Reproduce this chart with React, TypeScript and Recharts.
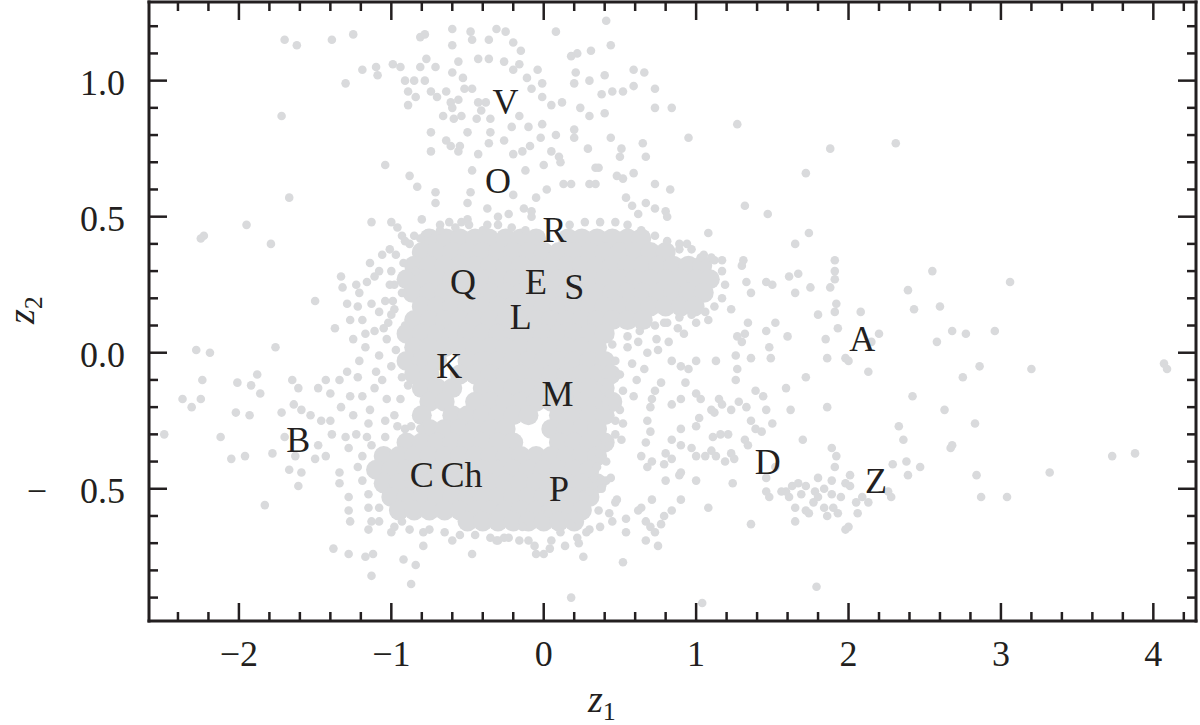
import React from 'react'
import { ScatterChart, Scatter, XAxis, YAxis, Label } from 'recharts'

const INK = '#231f20'
const DOT = '#d9dadc'
const FONT = "'Liberation Serif', 'DejaVu Serif', serif"

const X_DOMAIN: [number, number] = [-2.59, 4.28]
const Y_DOMAIN: [number, number] = [-0.986, 1.289]

const xMajorTicks = [-2, -1, 0, 1, 2, 3, 4]
const xMinorTicks = [-2.4, -2.2, -1.8, -1.6, -1.4, -1.2, -0.8, -0.6, -0.4, -0.2, 0.2, 0.4, 0.6, 0.8, 1.2, 1.4, 1.6, 1.8, 2.2, 2.4, 2.6, 2.8, 3.2, 3.4, 3.6, 3.8, 4.2]
const yMajorTicks = [-0.5, 0, 0.5, 1]
const yMinorTicks = [-0.9, -0.8, -0.7, -0.6, -0.4, -0.3, -0.2, -0.1, 0.1, 0.2, 0.3, 0.4, 0.6, 0.7, 0.8, 0.9, 1.1, 1.2]

// letter annotations
const letters = ['V', 'O', 'R', 'Q', 'E', 'S', 'L', 'K', 'M', 'B', 'C', 'Ch', 'P', 'A', 'D', 'Z']
const letterX = [-0.25, -0.3, 0.07, -0.53, -0.05, 0.2, -0.15, -0.62, 0.09, -1.61, -0.8, -0.54, 0.1, 2.09, 1.47, 2.18]
const letterY = [0.92, 0.63, 0.45, 0.26, 0.26, 0.24, 0.13, -0.05, -0.15, -0.32, -0.45, -0.45, -0.5, 0.05, -0.4, -0.47]

// upper arm (V, O) and the sparse top
const armPoints = [
  [-1.7, 1.15], [-1.62, 1.13], [-1.39, 1.15], [-1.25, 1.17], [-0.81, 1.16], [-0.78, 1.17], [-0.6, 1.19], [-0.6, 1.13], [-0.48, 1.18], [-0.47, 1.15], [-0.36, 1.15], [-0.31, 1.19],
  [-1.19, 1.04], [-1.1, 1.05], [-1.09, 1.02], [-0.99, 1.06], [-0.94, 1.05], [-1.3, 0.99], [-0.91, 1.0], [-0.85, 1.0], [-0.89, 0.96], [-0.84, 0.94], [-0.89, 0.91], [-0.77, 1.08], [-0.81, 1.05], [-0.71, 1.05], [-0.78, 1.0], [-0.74, 0.96], [-0.7, 0.94], [-0.64, 0.96], [-0.6, 1.03], [-0.56, 1.07], [-0.53, 1.01], [-0.52, 0.97], [-0.47, 0.97], [-0.43, 1.08], [-0.36, 1.08], [-0.61, 0.92], [-0.56, 0.93], [-0.6, 0.9], [-0.43, 0.92], [-0.38, 0.92], [-0.41, 0.89], [-0.66, 0.87], [-0.59, 0.86], [-0.54, 0.87], [-0.44, 0.86], [-0.35, 0.86],
  [-1.72, 0.87], [-0.74, 0.81], [-0.5, 0.81], [-0.35, 0.81], [-0.64, 0.78], [-0.61, 0.76], [-0.55, 0.76], [-0.56, 0.74], [-0.36, 0.77], [-0.74, 0.74], [-0.43, 0.73], [-1.04, 0.69], [-0.88, 0.65], [-0.47, 0.67], [-0.83, 0.61], [-0.71, 0.59], [-0.71, 0.55], [-0.48, 0.59], [-0.5, 0.55], [-1.67, 0.57],
  [0.41, 1.22], [0.08, 1.18], [0.44, 1.13], [0.31, 1.11], [0.22, 1.1], [0.18, 1.09], [-0.25, 1.18], [-0.2, 1.14], [-0.15, 1.11], [-0.26, 1.07], [-0.2, 1.04], [-0.16, 1.06], [-0.11, 1.01], [-0.04, 1.04], [-0.01, 0.99], [-0.08, 0.97], [-0.01, 0.94], [0.05, 0.91], [0.12, 0.92], [0.21, 1.03], [0.2, 0.99], [0.3, 1.0], [0.4, 1.02], [0.59, 1.04], [0.66, 1.03], [0.59, 0.98], [0.52, 0.96], [0.38, 0.95], [0.45, 0.96], [0.73, 0.97], [0.73, 0.9], [0.84, 0.9], [0.24, 0.9], [0.3, 0.87], [0.4, 0.88], [1.27, 0.84], [0.95, 0.79],
  [0.2, 0.82], [0.2, 0.79], [0.08, 0.8], [-0.01, 0.84], [-0.02, 0.79], [-0.09, 0.76], [-0.14, 0.74], [-0.2, 0.73], [-0.26, 0.78], [-0.21, 0.83], [-0.16, 0.87], [-0.1, 0.83], [0.44, 0.79], [0.65, 0.77], [0.67, 0.72], [0.51, 0.75], [0.5, 0.72], [0.29, 0.75], [0.1, 0.72], [0.05, 0.74], [0.0, 0.69], [0.11, 0.7], [-0.12, 0.67], [-0.2, 0.58], [-0.05, 0.57], [0.02, 0.6], [0.13, 0.62], [0.18, 0.62], [0.3, 0.62], [0.34, 0.62], [0.34, 0.68], [0.36, 0.68], [0.48, 0.65], [0.52, 0.64], [0.59, 0.66], [0.73, 0.62], [0.83, 0.6], [0.54, 0.57], [0.58, 0.54], [0.62, 0.51], [0.67, 0.55], [0.73, 0.53], [0.8, 0.52], [0.81, 0.5], [-0.08, 0.52], [-0.08, 0.5], [-0.3, 0.5], [-0.23, 0.51], [-0.13, 0.53],
  [1.88, 0.75], [1.72, 0.66], [1.32, 0.54], [1.47, 0.51], [1.74, 0.44], [1.65, 0.4], [2.31, 0.77],
]

// fringe round the upper cloud (Q, E, S)
const upperFringe = [
  [-1.95, 0.47], [-2.23, 0.43], [-2.25, 0.42], [-1.79, 0.4], [-1.13, 0.48], [-1.0, 0.48], [-0.96, 0.46], [-0.8, 0.49], [-0.93, 0.43], [-0.37, 0.53], [-0.37, 0.47], [-0.5, 0.49], [-0.54, 0.48], [-0.62, 0.48], [-0.68, 0.47],
  [-1.33, 0.28], [-1.32, 0.24], [-1.23, 0.25], [-1.11, 0.28], [-1.5, 0.19], [-0.92, 0.33], [-0.98, 0.25], [-0.93, 0.22], [-0.84, 0.3], [-1.01, 0.38], [-1.04, 0.19], [-1.08, 0.3], [-0.98, 0.16], [-1.13, 0.18], [-1.21, 0.22], [-0.88, 0.4], [-0.81, 0.42], [-1.02, 0.11], [-1.11, 0.08], [-0.91, 0.1], [-1.27, 0.12], [-1.19, 0.12], [-1.08, 0.15], [-1.0, 0.14],
  [-0.91, 0.41], [-0.85, 0.43], [-0.76, 0.44], [-0.68, 0.45], [-0.58, 0.46], [-0.49, 0.47], [-0.4, 0.45], [-0.3, 0.47], [-0.21, 0.46], [-0.12, 0.45], [-0.03, 0.43], [0.17, 0.47], [0.27, 0.48], [0.37, 0.48], [0.47, 0.48], [0.55, 0.47], [0.64, 0.45], [0.73, 0.43], [0.81, 0.41], [0.89, 0.4], [0.97, 0.38], [1.05, 0.36], [1.12, 0.34], [1.17, 0.3], [1.19, 0.25], [1.17, 0.2], [1.12, 0.17], [1.06, 0.15], [0.97, 0.14], [0.89, 0.13], [0.81, 0.11], [0.73, 0.1], [0.63, 0.08], [0.55, 0.06], [-0.97, 0.36], [-1.0, 0.3], [-1.01, 0.25], [-0.99, 0.19],
  [1.08, 0.44], [0.94, 0.4], [0.89, 0.38], [1.03, 0.35], [1.1, 0.35], [1.17, 0.34], [1.31, 0.34], [1.3, 0.32], [1.33, 0.26], [1.36, 0.22], [1.46, 0.26], [1.5, 0.25], [1.61, 0.28], [1.67, 0.29], [1.65, 0.22], [1.75, 0.24], [1.91, 0.34], [1.91, 0.3], [1.91, 0.27], [1.88, 0.24], [1.92, 0.18], [1.23, 0.16], [2.55, 0.3], [2.39, 0.23], [2.43, 0.16], [2.6, 0.17], [3.06, 0.26], [2.08, 0.15], [0.79, 0.11], [0.92, 0.07], [0.74, 0.05],
  [-1.25, 0.05], [-1.17, 0.02], [-1.22, 0.17], [-1.16, 0.26], [-1.06, 0.36], [-1.14, 0.33], [-1.29, 0.18], [-1.37, 0.09],
  [0.55, 0.02], [0.62, 0.04], [0.68, 0.0], [0.58, -0.04], [0.66, -0.06], [0.75, 0.01], [0.82, 0.04], [0.88, 0.09], [1.0, 0.11], [1.08, 0.12],
]

// left side: B and the edges of K, C, Ch
const leftPoints = [
  [-2.28, 0.01], [-2.19, 0.0], [-1.76, 0.02], [-2.37, -0.17], [-2.31, -0.2], [-2.25, -0.17], [-2.24, -0.1], [-2.49, -0.3], [-2.12, -0.31], [-2.02, -0.22], [-1.93, -0.23], [-2.01, -0.11], [-1.92, -0.12], [-1.88, -0.08], [-1.86, -0.15], [-2.05, -0.39], [-1.96, -0.38], [-1.78, -0.37], [-1.83, -0.56],
  [-1.72, -0.22], [-1.65, -0.1], [-1.61, -0.13], [-1.64, -0.19], [-1.59, -0.21], [-1.53, -0.23], [-1.7, -0.31], [-1.63, -0.38], [-1.67, -0.43], [-1.59, -0.44], [-1.61, -0.49], [-1.5, -0.39], [-1.43, -0.38], [-1.48, -0.13], [-1.43, -0.1], [-1.4, -0.15], [-1.34, -0.1], [-1.29, -0.07], [-1.21, -0.03], [-1.1, -0.07], [-1.11, -0.13], [-1.27, -0.16], [-1.19, -0.16], [-1.46, -0.25], [-1.4, -0.25], [-1.48, -0.34], [-1.39, -0.3],
  [-1.34, -0.44], [-1.34, -0.48], [-1.28, -0.53], [-1.28, -0.58], [-1.27, -0.62], [-1.15, -0.57], [-1.13, -0.62], [-1.15, -0.65], [-1.08, -0.57], [-1.0, -0.66], [-0.93, -0.62], [-0.79, -0.66], [-0.79, -0.71], [-0.6, -0.69], [-0.47, -0.74], [-0.31, -0.69], [-1.38, -0.72], [-1.28, -0.74], [-1.17, -0.75], [-1.12, -0.74], [-1.13, -0.82], [-0.92, -0.76], [-0.84, -0.78], [-0.87, -0.85],
  [-1.15, -0.26], [-1.04, -0.25], [-0.96, -0.27], [-0.87, -0.27], [-0.81, -0.28], [-1.16, -0.31], [-1.23, -0.3], [-1.3, -0.31], [-1.28, -0.35],
  [-1.03, 0.05], [-0.97, 0.01], [-1.0, -0.05], [-0.93, -0.09], [-0.89, -0.12], [-1.08, -0.01], [-0.94, -0.17], [-0.98, -0.23], [-0.91, -0.28],
  [-1.08, -0.62], [-0.98, -0.64], [-0.88, -0.65], [-0.75, -0.65], [-0.65, -0.66], [-0.55, -0.67], [-0.45, -0.67], [-0.35, -0.68], [-0.26, -0.68], [-0.16, -0.69], [-0.06, -0.71], [0.04, -0.72], [0.14, -0.71], [0.22, -0.68], [0.3, -0.65],
  [-1.19, -0.38], [-1.22, -0.42], [-1.19, -0.47], [-1.15, -0.52], [-1.13, -0.34], [-1.04, -0.31],
  [-1.06, -0.1], [-1.14, -0.21], [-1.03, -0.17], [-1.22, -0.09], [-1.33, -0.2], [-1.25, -0.23], [-1.05, 0.09], [-1.17, 0.07],
]

// right of the M / P column, round D
const rightPoints = [
  [1.34, 0.11], [1.52, 0.11], [1.46, 0.08], [1.6, 0.06], [1.8, 0.14], [1.91, 0.15], [1.93, 0.09], [1.85, 0.05], [1.86, -0.02], [1.98, -0.02], [1.27, 0.06], [1.32, 0.07], [1.3, 0.04], [1.48, 0.02], [1.49, -0.02], [1.36, -0.02], [1.26, -0.01], [1.27, -0.06], [1.26, -0.1], [1.13, -0.03], [1.0, -0.03], [0.9, -0.05], [0.84, -0.03], [0.95, -0.06], [0.93, -0.11], [1.0, -0.15], [1.03, -0.17], [0.9, -0.17], [0.84, -0.19], [0.77, -0.11], [0.73, -0.14], [0.61, -0.1], [0.59, -0.16], [0.71, -0.17], [0.7, -0.2], [0.68, -0.25], [0.7, -0.29], [0.67, -0.33], [0.64, -0.38], [0.68, -0.42], [0.71, -0.4], [0.79, -0.41], [0.8, -0.47], [0.89, -0.45],
  [0.84, -0.32], [0.9, -0.34], [0.9, -0.28], [0.97, -0.35], [1.0, -0.38], [1.06, -0.38], [1.02, -0.24], [1.0, -0.27], [1.1, -0.21], [1.15, -0.17], [1.11, -0.31], [1.16, -0.3], [1.21, -0.3], [1.23, -0.37], [1.25, -0.39], [1.19, -0.4], [1.13, -0.38], [1.1, -0.36], [1.32, -0.32], [1.34, -0.34], [1.39, -0.14], [1.44, -0.16], [1.46, -0.21], [1.5, -0.26], [1.43, -0.29], [1.39, -0.28], [1.36, -0.25], [1.33, -0.2], [1.28, -0.18], [1.23, -0.21], [1.17, -0.19], [1.12, -0.22], [1.59, -0.13], [1.62, -0.21], [1.7, -0.32], [1.72, -0.09], [1.86, -0.2],
  [1.52, -0.42], [1.46, -0.46], [1.46, -0.51], [1.48, -0.53], [1.24, -0.48], [1.08, -0.57], [1.0, -0.47], [1.36, -0.63], [0.9, -0.54], [0.84, -0.58], [0.79, -0.6], [0.77, -0.63], [0.71, -0.54], [0.64, -0.57], [0.62, -0.58], [0.67, -0.62], [0.73, -0.66], [0.67, -0.69], [0.75, -0.71], [0.7, -0.64], [0.54, -0.61], [0.54, -0.66], [0.47, -0.55], [0.43, -0.59], [0.45, -0.62], [0.36, -0.58], [0.37, -0.64], [0.28, -0.66], [0.23, -0.7], [0.26, -0.75], [0.18, -0.63], [0.11, -0.66], [0.08, -0.63], [0.03, -0.59], [0.05, -0.69], [-0.05, -0.74], [0.0, -0.74], [-0.1, -0.69], [-0.14, -0.64], [-0.23, -0.68], [-0.3, -0.69],
  [0.52, -0.77], [0.18, -0.9], [1.04, -0.92], [1.79, -0.86], [0.84, -0.39], [0.9, -0.44], [0.8, -0.37], [0.51, -0.32], [0.47, -0.3], [0.52, -0.26], [0.47, -0.25], [0.5, -0.21], [0.46, -0.2], [0.43, -0.15], [0.36, -0.13], [0.35, -0.15], [0.36, -0.19], [0.35, -0.33], [0.36, -0.37], [0.35, -0.42], [0.33, -0.46], [0.3, -0.51], [0.41, -0.47], [0.38, -0.5], [0.44, -0.46], [0.48, -0.54], [0.41, -0.4], [0.43, -0.34], [0.45, 0.03], [0.47, -0.03], [0.5, -0.08], [0.52, -0.14],
]

// far right: A, Z and the tail
const farRightPoints = [
  [2.0, -0.03], [2.2, 0.07], [2.15, 0.04], [2.13, -0.07], [2.68, 0.08], [2.77, 0.07], [2.58, 0.04], [2.96, 0.08], [2.86, -0.05], [2.75, -0.09], [3.2, -0.06], [4.07, -0.04], [4.09, -0.06], [2.42, -0.16], [2.63, -0.21], [2.83, -0.26], [2.33, -0.27], [2.36, -0.32], [2.67, -0.35], [2.68, -0.34], [2.29, -0.41], [2.38, -0.4], [2.47, -0.42], [2.39, -0.45], [2.84, -0.45], [2.87, -0.53], [3.04, -0.53], [3.32, -0.44], [3.73, -0.38], [3.88, -0.37], [2.28, -0.53], [2.26, -0.51], [2.13, -0.55], [2.09, -0.53], [2.05, -0.55], [2.06, -0.59], [2.01, -0.49], [2.01, -0.45], [2.0, -0.64],
]

// small clump between D and Z
const dzCluster = [
  [1.59, -0.51], [1.63, -0.49], [1.67, -0.48], [1.72, -0.49], [1.78, -0.51], [1.84, -0.5], [1.89, -0.52], [1.95, -0.53], [1.65, -0.57], [1.72, -0.58], [1.77, -0.55], [1.84, -0.57], [1.9, -0.57], [1.93, -0.59], [1.65, -0.62], [1.74, -0.59], [1.98, -0.65], [1.8, -0.46], [1.89, -0.47], [1.98, -0.48], [1.91, -0.42], [1.92, -0.38], [1.89, -0.35], [1.61, -0.53], [1.56, -0.51], [1.69, -0.52], [1.8, -0.53], [1.86, -0.6],
]

// solid middle of the main cloud, row by row (z2 of the row, then z1 values)
const coreRowY = [0.42, 0.37, 0.32, 0.27, 0.22, 0.17, 0.12, 0.07, 0.02, -0.03, -0.08, -0.13, -0.18, -0.23, -0.28, -0.33, -0.38, -0.43, -0.48, -0.53, -0.58, -0.62]
const coreRowX = [
  [-0.75, -0.64, -0.55, -0.45, -0.36, -0.25, -0.15, -0.05, 0.16, 0.25, 0.35, 0.45, 0.55, 0.64],
  [-0.8, -0.7, -0.6, -0.5, -0.4, -0.3, -0.2, -0.1, 0.0, 0.1, 0.2, 0.3, 0.4, 0.5, 0.6, 0.7, 0.8],
  [-0.85, -0.75, -0.65, -0.55, -0.45, -0.35, -0.25, -0.15, -0.05, 0.05, 0.15, 0.25, 0.35, 0.45, 0.55, 0.65, 0.75, 0.85, 0.95, 1.04],
  [-0.9, -0.8, -0.7, -0.6, -0.5, -0.4, -0.3, -0.2, -0.1, 0.0, 0.1, 0.2, 0.3, 0.4, 0.5, 0.6, 0.7, 0.8, 0.9, 1.0, 1.09],
  [-0.86, -0.75, -0.65, -0.55, -0.45, -0.35, -0.25, -0.15, -0.05, 0.05, 0.15, 0.25, 0.35, 0.45, 0.55, 0.65, 0.75, 0.85, 0.95, 1.05],
  [-0.8, -0.7, -0.6, -0.5, -0.4, -0.3, -0.2, -0.1, 0.0, 0.1, 0.2, 0.3, 0.4, 0.5, 0.6, 0.7, 0.8, 0.9, 0.99],
  [-0.85, -0.75, -0.65, -0.55, -0.45, -0.35, -0.25, -0.15, -0.05, 0.05, 0.15, 0.25, 0.35, 0.45, 0.55, 0.65],
  [-0.9, -0.8, -0.7, -0.6, -0.5, -0.4, -0.3, -0.2, -0.1, 0.0, 0.1, 0.2, 0.3, 0.4],
  [-0.85, -0.75, -0.65, -0.55, -0.45, -0.35, -0.25, -0.15, -0.05, 0.05, 0.15, 0.25, 0.35],
  [-0.9, -0.8, -0.7, -0.5, -0.4, -0.3, -0.2, -0.1, 0.0, 0.1, 0.2, 0.3, 0.4],
  [-0.85, -0.75, -0.55, -0.45, -0.35, -0.25, -0.15, -0.05, 0.05, 0.15, 0.25, 0.35, 0.44],
  [-0.8, -0.7, -0.6, -0.4, -0.3, -0.2, -0.1, 0.0, 0.1, 0.2, 0.3, 0.4],
  [-0.75, -0.65, -0.45, -0.35, -0.25, -0.15, -0.05, 0.05, 0.15, 0.25, 0.35, 0.45],
  [-0.8, -0.6, -0.5, -0.4, -0.3, -0.2, -0.1, 0.1, 0.2, 0.3, 0.4],
  [-0.75, -0.65, -0.55, -0.45, -0.35, -0.25, 0.05, 0.15, 0.25, 0.35],
  [-0.9, -0.8, -0.7, -0.6, -0.5, -0.4, -0.3, -0.2, 0.1, 0.2, 0.3, 0.4],
  [-1.05, -0.95, -0.85, -0.75, -0.65, -0.55, -0.45, -0.35, -0.25, -0.15, -0.05, 0.05, 0.15, 0.25, 0.35],
  [-1.1, -1.0, -0.9, -0.8, -0.7, -0.6, -0.5, -0.4, -0.3, -0.2, -0.1, 0.0, 0.1, 0.2, 0.3],
  [-1.05, -0.95, -0.85, -0.75, -0.65, -0.55, -0.45, -0.35, -0.25, -0.15, -0.05, 0.05, 0.15, 0.25, 0.35],
  [-1.0, -0.9, -0.8, -0.7, -0.6, -0.5, -0.4, -0.3, -0.2, -0.1, 0.0, 0.1, 0.2, 0.3],
  [-0.95, -0.85, -0.75, -0.65, -0.55, -0.45, -0.35, -0.25, -0.15, -0.05, 0.05, 0.15, 0.25],
  [-0.5, -0.4, -0.3, -0.2, -0.1, 0.0, 0.1, 0.2],
]

const toPoints = (pairs: number[][]) => pairs.map(([x, y]) => ({ x, y }))
const scatterPoints = toPoints([...armPoints, ...upperFringe, ...leftPoints, ...rightPoints, ...farRightPoints, ...dzCluster])
const corePoints = coreRowY.flatMap((y, i) => coreRowX[i].map(x => ({ x, y })))
const letterData = letters.map((t, i) => ({ x: letterX[i], y: letterY[i], t }))

const xTicks = [...xMajorTicks, ...xMinorTicks].sort((a, b) => a - b)
const yTicks = [...yMajorTicks, ...yMinorTicks].sort((a, b) => a - b)

const MAJOR = 18
const MINOR = 9

const BottomTick = ({ x, y, payload }: any) => {
  const major = xMajorTicks.includes(payload.value)
  const v = payload.value
  return (
    <g>
      <line x1={x} x2={x} y1={y} y2={y - (major ? MAJOR : MINOR)} stroke={INK} strokeWidth={2.5} />
      {major && (
        <text x={x} y={y + 45} textAnchor="middle" fontFamily={FONT} fontSize={36} fill={INK}>
          {v < 0 ? `\u2212${Math.abs(v)}` : String(v)}
        </text>
      )}
    </g>
  )
}

const TopTick = ({ x, y, payload }: any) => {
  const major = xMajorTicks.includes(payload.value)
  return <line x1={x} x2={x} y1={y} y2={y + (major ? MAJOR : MINOR)} stroke={INK} strokeWidth={2.5} />
}

const LeftTick = ({ x, y, payload }: any) => {
  const v = payload.value
  const major = yMajorTicks.includes(v)
  return (
    <g>
      <line x1={x} x2={x + (major ? MAJOR : MINOR)} y1={y} y2={y} stroke={INK} strokeWidth={2.5} />
      {major && (
        <text x={x - 24} y={y + 14} textAnchor="end" fontFamily={FONT} fontSize={36} fill={INK}>
          {Math.abs(v).toFixed(1)}
        </text>
      )}
      {major && v < 0 && (
        <text x={x - 102} y={y + 14} textAnchor="end" fontFamily={FONT} fontSize={36} fill={INK}>
          {'\u2212'}
        </text>
      )}
    </g>
  )
}

const RightTick = ({ x, y, payload }: any) => {
  const major = yMajorTicks.includes(payload.value)
  return <line x1={x} x2={x - (major ? MAJOR : MINOR)} y1={y} y2={y} stroke={INK} strokeWidth={2.5} />
}

const Dot = (p: any) => <circle cx={p.cx} cy={p.cy} r={4.3} fill={DOT} />
const CoreDot = (p: any) => <circle cx={p.cx} cy={p.cy} r={10} fill={DOT} />
const Letter = (p: any) => (
  <text x={p.cx} y={p.cy + 12} textAnchor="middle" fontFamily={FONT} fontSize={36} fill={INK}>
    {p.payload?.t ?? p.t}
  </text>
)

const frame = { stroke: INK, strokeWidth: 3, strokeLinecap: 'square' as const }

export default function App() {
  return (
    <div style={{ position: 'absolute', left: 0, top: 0, width: 1200, height: 725, background: '#fff' }}>
      <ScatterChart width={1200} height={725} margin={{ top: 1, right: 3, bottom: 0, left: 0 }}>
        <XAxis
          xAxisId="b" type="number" dataKey="x" domain={X_DOMAIN} allowDataOverflow
          ticks={xTicks} interval={0} tickSize={0} tickMargin={0} height={104}
          axisLine={frame} tickLine={false} tick={<BottomTick />}
        >
          <Label
            content={() => (
              <text x={588} y={712} fontFamily={FONT} fill={INK}>
                <tspan fontSize={38} fontStyle="italic">z</tspan>
                <tspan fontSize={26} dy={8}>1</tspan>
              </text>
            )}
          />
        </XAxis>
        <XAxis
          xAxisId="t" orientation="top" type="number" dataKey="x" domain={X_DOMAIN} allowDataOverflow
          ticks={xTicks} interval={0} tickSize={0} tickMargin={0} height={1}
          axisLine={frame} tickLine={false} tick={<TopTick />}
        />
        <YAxis
          yAxisId="l" type="number" dataKey="y" domain={Y_DOMAIN} allowDataOverflow
          ticks={yTicks} interval={0} tickSize={0} tickMargin={0} width={149}
          axisLine={frame} tickLine={false} tick={<LeftTick />}
        >
          <Label
            content={() => (
              <text x={34} y={324} fontFamily={FONT} fill={INK} transform="rotate(-90, 34, 324)">
                <tspan fontSize={38} fontStyle="italic">z</tspan>
                <tspan fontSize={26} dy={8}>2</tspan>
              </text>
            )}
          />
        </YAxis>
        <YAxis
          yAxisId="r" orientation="right" type="number" dataKey="y" domain={Y_DOMAIN} allowDataOverflow
          ticks={yTicks} interval={0} tickSize={0} tickMargin={0} width={1}
          axisLine={frame} tickLine={false} tick={<RightTick />}
        />
        <Scatter xAxisId="t" yAxisId="r" data={corePoints} shape={CoreDot} isAnimationActive={false} />
        <Scatter xAxisId="b" yAxisId="l" data={scatterPoints} shape={Dot} isAnimationActive={false} />
        <Scatter xAxisId="b" yAxisId="l" data={letterData} shape={Letter} isAnimationActive={false} />
      </ScatterChart>
    </div>
  )
}
